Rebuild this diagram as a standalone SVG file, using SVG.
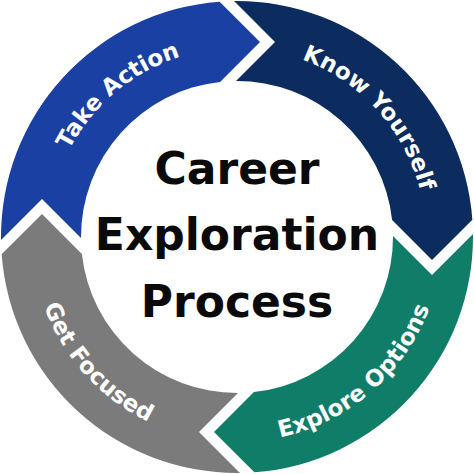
<svg xmlns="http://www.w3.org/2000/svg" xmlns:xlink="http://www.w3.org/1999/xlink" width="474" height="474" viewBox="0 0 474 474">
  <style>
    .lbl { font-family: "DejaVu Sans", "Liberation Sans", sans-serif; font-weight: bold; font-size: 23px; fill: #ffffff; }
    .ctr { font-family: "DejaVu Sans", "Liberation Sans", sans-serif; font-weight: bold; font-size: 44px; fill: #0a0a0a; text-anchor: middle; }
  </style>
  <defs>
    <path id="seg" d="M 1.02,239.98 A 236 236 0 0 1 219.64,1.64 L 260,42 L 220.1,81.9 A 156 156 0 0 0 81,238 L 42,199 Z"/>
    <path id="pTake" d="M 48,237 A 189 189 0 0 1 269.82,50.87" fill="none"/>
    <path id="pKnow" d="M 230.40,48.12 A 189 189 0 0 1 424.16,263.30" fill="none"/>
    <path id="pExplore" d="M 204.93,439.48 A 205 205 0 0 0 441.97,233.42" fill="none"/>
    <path id="pFocus" d="M 33.99,208.47 A 205 205 0 0 0 244.15,441.88" fill="none"/>
  </defs>
  <rect width="474" height="474" fill="#ffffff"/>
  <g id="take-action">
    <use xlink:href="#seg" href="#seg" fill="#1a40a3"/>
    <text class="lbl"><textPath xlink:href="#pTake" href="#pTake" startOffset="50%" text-anchor="middle">Take Action</textPath></text>
  </g>
  <g id="know-yourself">
    <use xlink:href="#seg" href="#seg" fill="#0c2b5e" transform="rotate(90 237 237)"/>
    <text class="lbl"><textPath xlink:href="#pKnow" href="#pKnow" startOffset="50%" text-anchor="middle">Know Yourself</textPath></text>
  </g>
  <g id="explore-options">
    <use xlink:href="#seg" href="#seg" fill="#107d69" transform="rotate(180 237 237)"/>
    <text class="lbl"><textPath xlink:href="#pExplore" href="#pExplore" startOffset="50%" text-anchor="middle">Explore Options</textPath></text>
  </g>
  <g id="get-focused">
    <use xlink:href="#seg" href="#seg" fill="#7b7b7b" transform="rotate(270 237 237)"/>
    <text class="lbl"><textPath xlink:href="#pFocus" href="#pFocus" startOffset="50%" text-anchor="middle">Get Focused</textPath></text>
  </g>
  <g id="center">
    <text class="ctr" x="237" y="184">Career</text>
    <text class="ctr" x="237" y="250">Exploration</text>
    <text class="ctr" x="237" y="317">Process</text>
  </g>
</svg>
